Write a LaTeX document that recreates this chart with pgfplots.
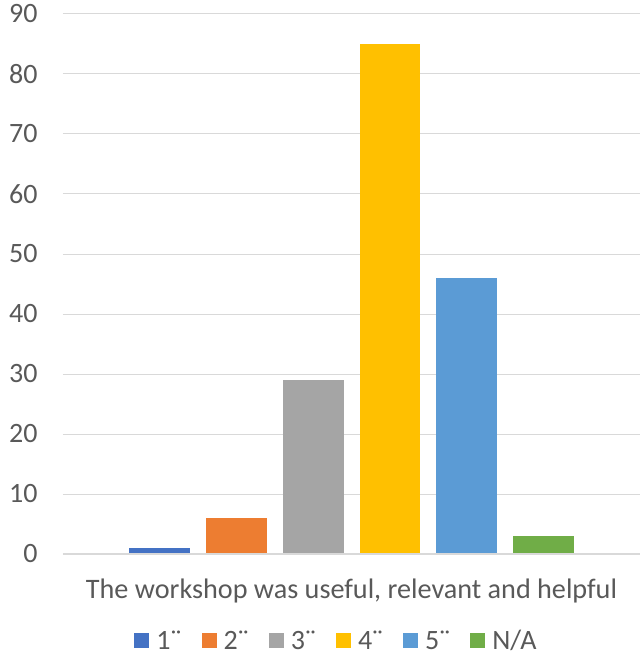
\documentclass[border=0pt]{standalone}
\usepackage{pgfplots}
\pgfplotsset{compat=1.18}
\usepackage{fontspec}
\setmainfont{Carlito}
\definecolor{c1}{HTML}{4472C4}
\definecolor{c2}{HTML}{ED7D31}
\definecolor{c3}{HTML}{A5A5A5}
\definecolor{c4}{HTML}{FFC000}
\definecolor{c5}{HTML}{5B9BD5}
\definecolor{c6}{HTML}{70AD47}
\definecolor{txt}{HTML}{595959}
\definecolor{grd}{HTML}{D9D9D9}
\begin{document}
\begin{tikzpicture}[x=1pt,y=1pt]
\begin{axis}[
  name=ax,
  scale only axis,
  width=577pt, height=540pt,
  xmin=-0.253, xmax=7.253,
  ymin=0, ymax=90,
  ytick={0,10,...,90},
  xtick=\empty,
  ybar, bar width=0.792, bar shift=0pt,
  axis line style={draw=none},
  ymajorgrids, grid style={grd, line width=1pt},
  major tick length=0pt,
  tick label style={font=\fontsize{28}{31}\selectfont, text=txt},
  /pgf/number format/assume math mode=true,
  yticklabel style={anchor=east, xshift=-22pt},
  xlabel={The workshop was useful, relevant and helpful},
  xlabel style={font=\fontsize{28.2}{31}\selectfont, text=txt, at={(rel axis cs:0.5,0)}, anchor=center, yshift=-37pt},
  legend style={draw=none, at={(0.474,-0.161)}, anchor=center, legend columns=-1,
    font=\fontsize{28}{31}\selectfont, text=txt, inner sep=0pt,
    /tikz/every even column/.append style={column sep=18pt},
    /tikz/every odd column/.append style={column sep=5pt}},
  legend image code/.code={\fill[#1] (0pt,-7.5pt) rectangle (15pt,7.5pt);},
  clip=false,
]
\addplot[fill=c1, draw=none] coordinates {(1,1)};
\addplot[fill=c2, draw=none] coordinates {(2,6)};
\addplot[fill=c3, draw=none] coordinates {(3,29)};
\addplot[fill=c4, draw=none] coordinates {(4,85)};
\addplot[fill=c5, draw=none] coordinates {(5,46)};
\addplot[fill=c6, draw=none] coordinates {(6,3)};
\legend{1¨,2¨,3¨,4¨,5¨,N/A}
\draw[grd, line width=1.5pt] (rel axis cs:0,0) -- (rel axis cs:1,0);
\end{axis}
\useasboundingbox (ax.south west) ++(-63pt,-106pt) rectangle ++(642pt,660pt);
\end{tikzpicture}
\end{document}
